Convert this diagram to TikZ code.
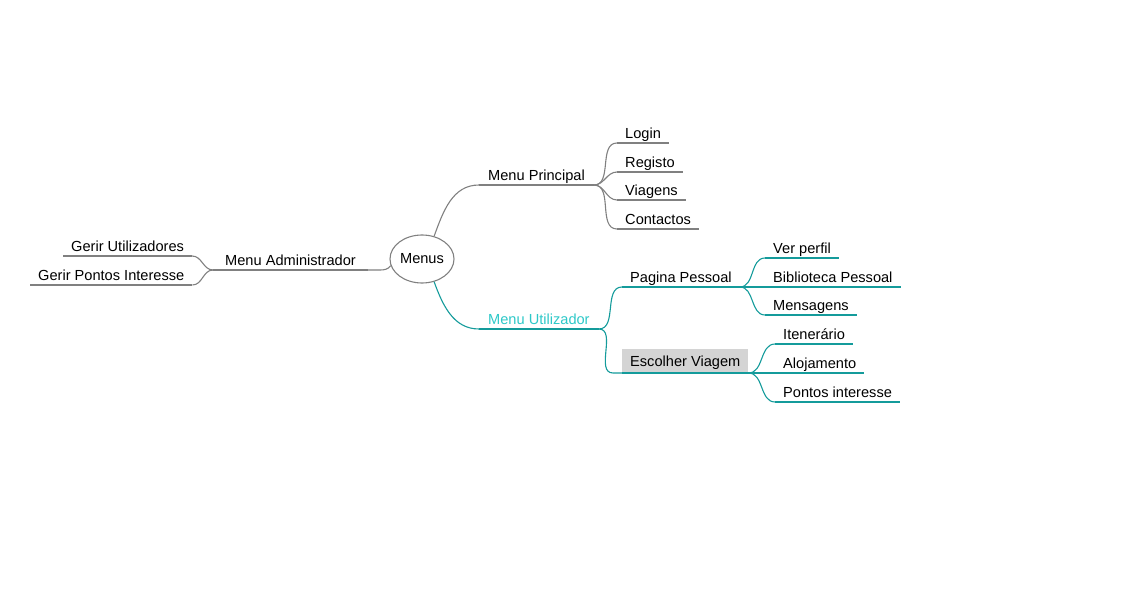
\documentclass[tikz,border=0pt]{standalone}
\usepackage{fontspec}
\setmainfont{Liberation Sans}
\usetikzlibrary{shapes.geometric,positioning}
\definecolor{linegray}{RGB}{128,128,128}
\definecolor{tealline}{RGB}{20,155,155}
\definecolor{tealtext}{RGB}{45,200,200}
\definecolor{boxgray}{RGB}{212,212,212}

\begin{document}
\begin{tikzpicture}
  [
   x=1pt,y=1pt,
   every node/.style={font=\fontsize{14.6}{17}\selectfont},
   topic/.style={anchor=south west,inner xsep=8pt,inner ysep=1.5pt,text height=10pt,text depth=3pt},
   centre/.style={ellipse,draw=linegray,line width=1.1pt,minimum width=64pt,minimum height=48pt,inner sep=0pt},
   gl/.style={draw=linegray,line width=1.1pt},
   tl/.style={draw=tealline,line width=1.1pt},
   link/.style={out=0,in=180}
  ]
   \useasboundingbox (0,0) rectangle (1145,611);

   \node[centre] (menus) at (422,352) {Menus};

   % Menu Principal
   \node[topic,inner xsep=9pt] (mp) at (479,426) {Menu Principal};
   \node[topic] (login) at (617,468) {Login};
   \node[topic] (registo) at (617,439) {Registo};
   \node[topic] (viagens) at (617,411) {Viagens};
   \node[topic] (contactos) at (617,382) {Contactos};

   % Menu Utilizador
   \node[topic,inner xsep=9pt,text=tealtext] (mu) at (479,282) {Menu Utilizador};
   \node[topic] (pp) at (622,324) {Pagina Pessoal};
   \node[topic,fill=boxgray,text height=15pt,inner ysep=3pt] (ev) at (622,238) {Escolher Viagem};
   \node[topic] (vp) at (765,353) {Ver perfil};
   \node[topic] (bp) at (765,324) {Biblioteca Pessoal};
   \node[topic] (msg) at (765,296) {Mensagens};
   \node[topic] (it) at (775,267) {Itenerário};
   \node[topic] (al) at (775,238) {Alojamento};
   \node[topic] (pi) at (775,209) {Pontos interesse};

   % Menu Administrador
   \node[topic,inner xsep=12pt] (ma) at (213,341) {Menu Administrador};
   \node[topic] (gu) at (63,355) {Gerir Utilizadores};
   \node[topic] (gpi) at (30,326) {Gerir Pontos Interesse};

   % underlines
   \foreach \n in {mp,login,registo,viagens,contactos,ma,gu,gpi}
     \draw[gl] (\n.south west) -- (\n.south east);
   \foreach \n in {mu,pp,ev,vp,bp,msg,it,al,pi}
     \draw[tl] (\n.south west) -- (\n.south east);

   % connectors
   \draw[gl] (menus.62) to[out=70,in=180] (mp.south west);
   \draw[gl] (menus.192) to[out=235,in=0] ([xshift=12pt]ma.south east) -- (ma.south east);
   \foreach \n in {login,registo,viagens,contactos}
     \draw[gl] (mp.south east) to[link] (\n.south west);
   \foreach \n in {gu,gpi}
     \draw[gl] (ma.south west) to[out=180,in=0] (\n.south east);

   \draw[tl] (menus.-62) to[out=-70,in=180] (mu.south west);
   \draw[tl] (mu.south east) to[link] (pp.south west);
   \draw[tl] (mu.south east) to[link] ([xshift=-9pt]ev.south west) -- (ev.south west);
   \foreach \n in {vp,bp,msg}
     \draw[tl] (pp.south east) to[link] (\n.south west);
   \foreach \n in {it,al,pi}
     \draw[tl] (ev.south east) to[link] (\n.south west);

\end{tikzpicture}
\end{document}
